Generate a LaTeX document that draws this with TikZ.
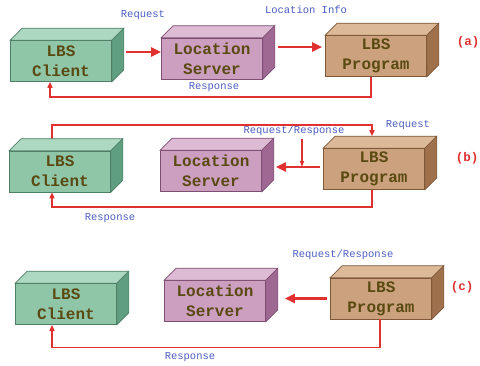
\documentclass[tikz,border=0pt]{standalone}
\usepackage{fontspec}
\setmonofont{Liberation Mono}
\usepackage{xcolor}
\usepackage{tikz}
\usetikzlibrary{arrows.meta, positioning, calc}

\definecolor{cliFront}{HTML}{8FC6A8}
\definecolor{cliTop}{HTML}{ADD8C1}
\definecolor{cliSide}{HTML}{5F9F80}
\definecolor{cliEdge}{HTML}{4E7E66}
\definecolor{srvFront}{HTML}{CC9EC0}
\definecolor{srvTop}{HTML}{DEBBD4}
\definecolor{srvSide}{HTML}{9E6892}
\definecolor{srvEdge}{HTML}{7E4E72}
\definecolor{prgFront}{HTML}{CCA27E}
\definecolor{prgTop}{HTML}{DCBA98}
\definecolor{prgSide}{HTML}{9E704C}
\definecolor{prgEdge}{HTML}{7E5838}
\definecolor{boxText}{HTML}{5A4A12}
\definecolor{lineRed}{HTML}{E03030}
\definecolor{labBlue}{HTML}{4A5CC0}

% top and side faces of a box node
\newcommand{\cubefaces}[2]{%
  \filldraw[draw=#2Edge, fill=#2Top, line width=0.6pt]
    (#1.north west) -- ++(12pt,12pt) -- ($(#1.north east)+(12pt,12pt)$) -- (#1.north east) -- cycle;
  \filldraw[draw=#2Edge, fill=#2Side, line width=0.6pt]
    (#1.north east) -- ++(12pt,12pt) -- ($(#1.south east)+(12pt,12pt)$) -- (#1.south east) -- cycle;
}

\begin{document}
\begin{tikzpicture}[x=1pt, y=-1pt,
  box/.style={draw=#1Edge, fill=#1Front, line width=0.6pt, minimum width=101pt,
    minimum height=41pt, inner sep=0pt, align=center, text=boxText,
    font=\ttfamily\bfseries\fontsize{16}{20}\selectfont},
  bigarrow/.style={draw=lineRed, line width=2.4pt, -{Triangle[length=10pt,width=9pt]}},
  smallarrow/.style={draw=lineRed, line width=1.2pt, -{Triangle[length=6pt,width=4pt]}},
  resp/.style={draw=lineRed, line width=1.6pt, -{Triangle[length=6pt,width=5pt]}},
  lab/.style={text=labBlue, font=\ttfamily\fontsize{10.5}{12}\selectfont, inner sep=1pt},
  tag/.style={text=lineRed, font=\ttfamily\bfseries\fontsize{12.5}{14}\selectfont}]

\useasboundingbox (0,0) rectangle (480,365);

%---------------- Row (a) ----------------%
\node[box=cli] (cliA) at (61,61)    {LBS\\Client};
\node[box=srv] (srvA) at (212,58.5) {Location\\Server};
\node[box=prg] (prgA) at (376,56)   {LBS\\Program};

\draw[bigarrow] ([shift={(14pt,9pt)}]cliA.east) -- ([yshift=6.5pt]srvA.west);
\draw[bigarrow] ([shift={(15pt,11.5pt)}]srvA.east) -- ([shift={(-3pt,9pt)}]prgA.west);
\draw[resp] ([xshift=-5pt]prgA.south) -- ++(0,-20pt) -| ([xshift=-11pt]cliA.south);

\node[lab] (reqA)  at (143,15)  {Request};
\node[lab] (infoA) at (306,10)  {Location Info};
\node[lab] (resA)  at (214,87)  {Response};
\node[tag] (tagA)  at (468,42)  {(a)};

%---------------- Row (b) ----------------%
\node[box=cli] (cliB) at (60,171.5) {LBS\\Client};
\node[box=srv] (srvB) at (211,171)  {Location\\Server};
\node[box=prg] (prgB) at (374,169)  {LBS\\Program};

\draw[bigarrow] ([shift={(-3pt,2pt)}]prgB.west) -- ([shift={(14pt,4pt)}]srvB.east)
  coordinate (hitB);
\draw[resp] ([shift={(-8pt,12pt)}]cliB.north) -- ++(0,14pt) -| ([shift={(-2pt,12pt)}]prgB.north);
\draw[resp] ([xshift=-2pt]prgB.south) -- ++(0,-17pt) -| ([xshift=-8pt]cliB.south);

\node[lab] (rrB)   at (294,131) {Request/Response};
\coordinate (dropB) at (302,139);
\draw[smallarrow] (dropB) -- (dropB |- hitB);

\node[lab] (reqB)  at (408,125) {Request};
\node[lab] (resB)  at (110,218) {Response};
\node[tag] (tagB)  at (467,158) {(b)};

%---------------- Row (c) ----------------%
\node[box=cli] (cliC) at (66,304)    {LBS\\Client};
\node[box=srv] (srvC) at (215,301)   {Location\\Server};
\node[box=prg] (prgC) at (381,298.5) {LBS\\Program};

\draw[bigarrow] ([xshift=-3pt]prgC.west) -- ([shift={(19pt,2.5pt)}]srvC.east);
\draw[resp] ([xshift=-1pt]prgC.south) -- ++(0,-28pt) -| ([xshift=-14pt]cliC.south);

\node[lab] (rrC)   at (343,255) {Request/Response};
\node[lab] (resC)  at (190,357) {Response};
\node[tag] (tagC)  at (462,287) {(c)};

%---------------- 3D faces ----------------%
\foreach \n/\c in {cliA/cli,srvA/srv,prgA/prg,cliB/cli,srvB/srv,prgB/prg,cliC/cli,srvC/srv,prgC/prg}
  {\cubefaces{\n}{\c}}

\end{tikzpicture}
\end{document}
